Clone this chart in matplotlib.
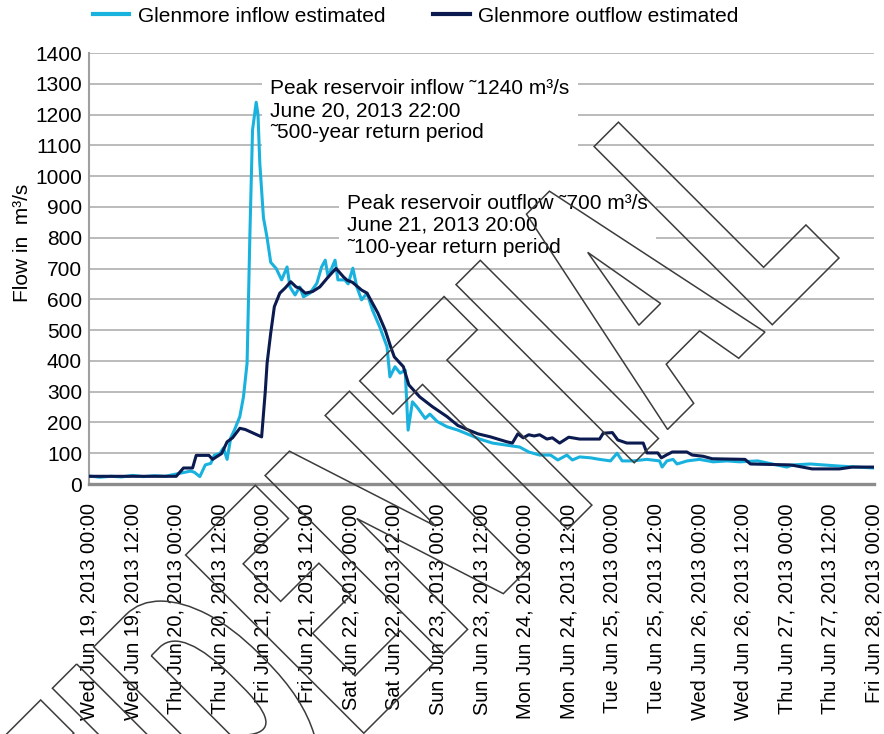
import datetime as dt

import matplotlib
matplotlib.use("Agg")
import matplotlib.pyplot as plt
import matplotlib.dates as mdates
from matplotlib.lines import Line2D
from matplotlib.textpath import TextPath
from matplotlib.font_manager import FontProperties
from matplotlib.patches import PathPatch
from matplotlib.transforms import Affine2D

plt.rcParams["font.family"] = ["Liberation Sans", "DejaVu Sans"]

# ---- data: hours after Wed Jun 19, 2013 00:00 and flow in m3/s ----
inflow_hours = [0, 3, 6, 9, 12, 15, 18, 21, 23, 25.5, 28, 29, 30.5, 32, 33.5,
                34.5, 36, 37, 38, 39, 40, 41.5, 42.5, 43.5, 44.3, 45, 46, 46.5,
                47, 48, 49, 50, 51.5, 53, 54.5, 55.3, 56.7, 58, 59, 60.8, 62.7,
                64, 65, 65.8, 67.7, 68.5, 70.4, 71.3, 72.6, 73.7, 75, 76.5, 78,
                80, 82, 82.8, 84.2, 85.6, 87, 87.8, 89, 90.5, 92.5, 93.8, 95.8,
                98.5, 101.5, 104, 107.5, 111, 115, 118.5, 121, 124, 127, 129,
                131.5, 133, 135, 138, 140.5, 143.5, 145.3, 146.7, 149.7, 153.5,
                157, 157.7, 159, 160.7, 161.8, 164.6, 168, 171.7, 175.6, 179,
                184, 192, 193.7, 198.5, 206.7, 216]
inflow = [26, 22, 25, 23, 28, 24, 27, 25, 30, 36, 42, 38, 24, 62, 67,
          94, 99, 117, 80, 150, 175, 219, 283, 393, 825, 1150, 1240, 1200,
          1042, 865, 800, 720, 700, 663, 705, 640, 614, 640, 608, 620, 652,
          705, 727, 673, 727, 663, 663, 650, 701, 640, 598, 620, 565,
          510, 446, 348, 381, 360, 370, 175, 267, 246, 213, 227, 203,
          186, 175, 163, 146, 133, 126, 120, 104, 94, 94, 78,
          94, 78, 88, 85, 80, 75, 100, 75, 75, 80,
          75, 55, 75, 80, 65, 75, 80, 72, 75, 72,
          75, 55, 62, 65, 58, 52]

outflow_hours = [0, 24, 26, 28.5, 29.5, 33, 34, 36.5, 38, 39.5, 41.5, 43, 47.5,
                 48.5, 49, 50, 51, 52.5, 54, 55.5, 57, 58, 59.5, 61.5, 63.5,
                 65.5, 67, 68, 70, 71, 72.5, 75, 76.5, 79.5, 81.5, 83, 84,
                 86.5, 88, 91, 94.5, 98.5, 101.5, 104.5, 107, 110.5, 115, 116.5,
                 118, 119.5, 121, 122.5, 124, 126, 127.5, 129.5, 132, 135,
                 140.5, 141.5, 144, 145.5, 148, 152.5, 153.5, 156.5, 157.5,
                 159, 160.5, 164.5, 166, 169, 171.5, 180.5, 182, 193, 194, 199,
                 206.5, 210, 216]
outflow = [25, 25, 52, 52, 93, 93, 80, 99, 137, 150, 181, 177, 153,
           300, 392, 490, 576, 620, 637, 657, 640, 636, 620, 625, 640,
           668, 688, 700, 673, 662, 655, 630, 620, 555, 500, 446, 413,
           381, 322, 283, 251, 219, 190, 175, 163, 153, 137, 133,
           163, 150, 160, 156, 160, 146, 150, 133, 152, 146,
           146, 165, 167, 143, 133, 133, 101, 101, 85,
           95, 104, 104, 94, 90, 82, 80, 65, 62, 60, 49,
           49, 55, 55]

y_ticks = list(range(0, 1500, 100))
series_names = ["Glenmore inflow estimated", "Glenmore outflow estimated"]
inflow_note = "Peak reservoir inflow \u02dc1240 m\u00b3/s\nJune 20, 2013 22:00\n\u02dc500-year return period"
outflow_note = "Peak reservoir outflow \u02dc700 m\u00b3/s\nJune 21, 2013 20:00\n\u02dc100-year return period"
stamp_word = "CONFIDENTIAL"

start = dt.datetime(2013, 6, 19, 0, 0)
end = dt.datetime(2013, 6, 28, 0, 0)
inflow_t = [start + dt.timedelta(hours=h) for h in inflow_hours]
outflow_t = [start + dt.timedelta(hours=h) for h in outflow_hours]

C_IN = "#19b2de"
C_OUT = "#0b1a4f"
FS = 15

W, H = 884, 734
fig = plt.figure(figsize=(W / 100, H / 100), dpi=100)
ax = fig.add_axes([89 / W, (H - 484) / H, 785 / W, 431 / H])

ax.plot(inflow_t, inflow, color=C_IN, lw=2.2, solid_joinstyle="round", zorder=3)
ax.plot(outflow_t, outflow, color=C_OUT, lw=2.2, solid_joinstyle="round", zorder=4)

ax.set_xlim(start, end)
ax.set_ylim(0, 1400)
ax.set_yticks(y_ticks)
ax.yaxis.grid(True, color="#a8a8a8", lw=1.1)
ax.set_axisbelow(True)
for side in ("top", "right"):
    ax.spines[side].set_visible(False)
ax.spines["left"].set_color("#a0a0a0")
ax.spines["left"].set_linewidth(1.5)
ax.spines["bottom"].set_color("#8c8c8c")
ax.spines["bottom"].set_linewidth(2.4)

ax.xaxis.set_major_locator(mdates.HourLocator(byhour=[0, 12]))
ax.xaxis.set_major_formatter(mdates.DateFormatter("%a %b %d, %Y %H:%M"))
ax.tick_params(axis="x", length=0, pad=14, labelsize=14.4, labelrotation=90)
ax.tick_params(axis="y", length=0, pad=5, labelsize=FS)

ax.set_ylabel("Flow in  m\u00b3/s", fontsize=FS)
ax.yaxis.set_label_coords(-0.073, 0.56)

# peak annotations
def at(hours, value):
    return mdates.date2num(start + dt.timedelta(hours=hours)), value

box = dict(boxstyle="square,pad=0.4", facecolor="white", edgecolor="none")
ax.text(*at(49.8, 1212), inflow_note, fontsize=FS, va="center", ha="left",
        linespacing=1.2, bbox=box, zorder=6)
ax.text(*at(71.0, 840), outflow_note, fontsize=FS, va="center", ha="left",
        linespacing=1.2, bbox=box, zorder=6)

# legend
handles = [Line2D([], [], color=C_IN, lw=3), Line2D([], [], color=C_OUT, lw=3)]
fig.legend(handles, series_names, loc="center left",
           bbox_to_anchor=(93 / W, 1 - 16 / H), ncol=2, frameon=False,
           fontsize=FS, handlelength=1.75, handletextpad=0.4,
           columnspacing=2.3, borderpad=0, borderaxespad=0)

# outlined stamp across the chart: heavy face, squeezed along the baseline
fp = FontProperties(family=["Roboto", "Liberation Sans"], weight="black")
word = TextPath((0, 0), stamp_word, size=1, prop=fp)
tail = TextPath((0, 0), "DENTIAL", size=1, prop=fp).get_extents()
cap = TextPath((0, 0), "L", size=1, prop=fp).get_extents().height
sx = 802 / tail.width
x_end = word.get_extents().x1
tf = (Affine2D().translate(-x_end, 0).scale(sx, 252 / cap).rotate_deg(45)
      .translate(839, H - 258).scale(1 / W, 1 / H))
stamp = PathPatch(tf.transform_path(word), facecolor="none",
                  edgecolor="#3c3c3c", lw=1.1, transform=fig.transFigure,
                  zorder=20)
fig.add_artist(stamp)

fig.savefig("out.png", dpi=100)
